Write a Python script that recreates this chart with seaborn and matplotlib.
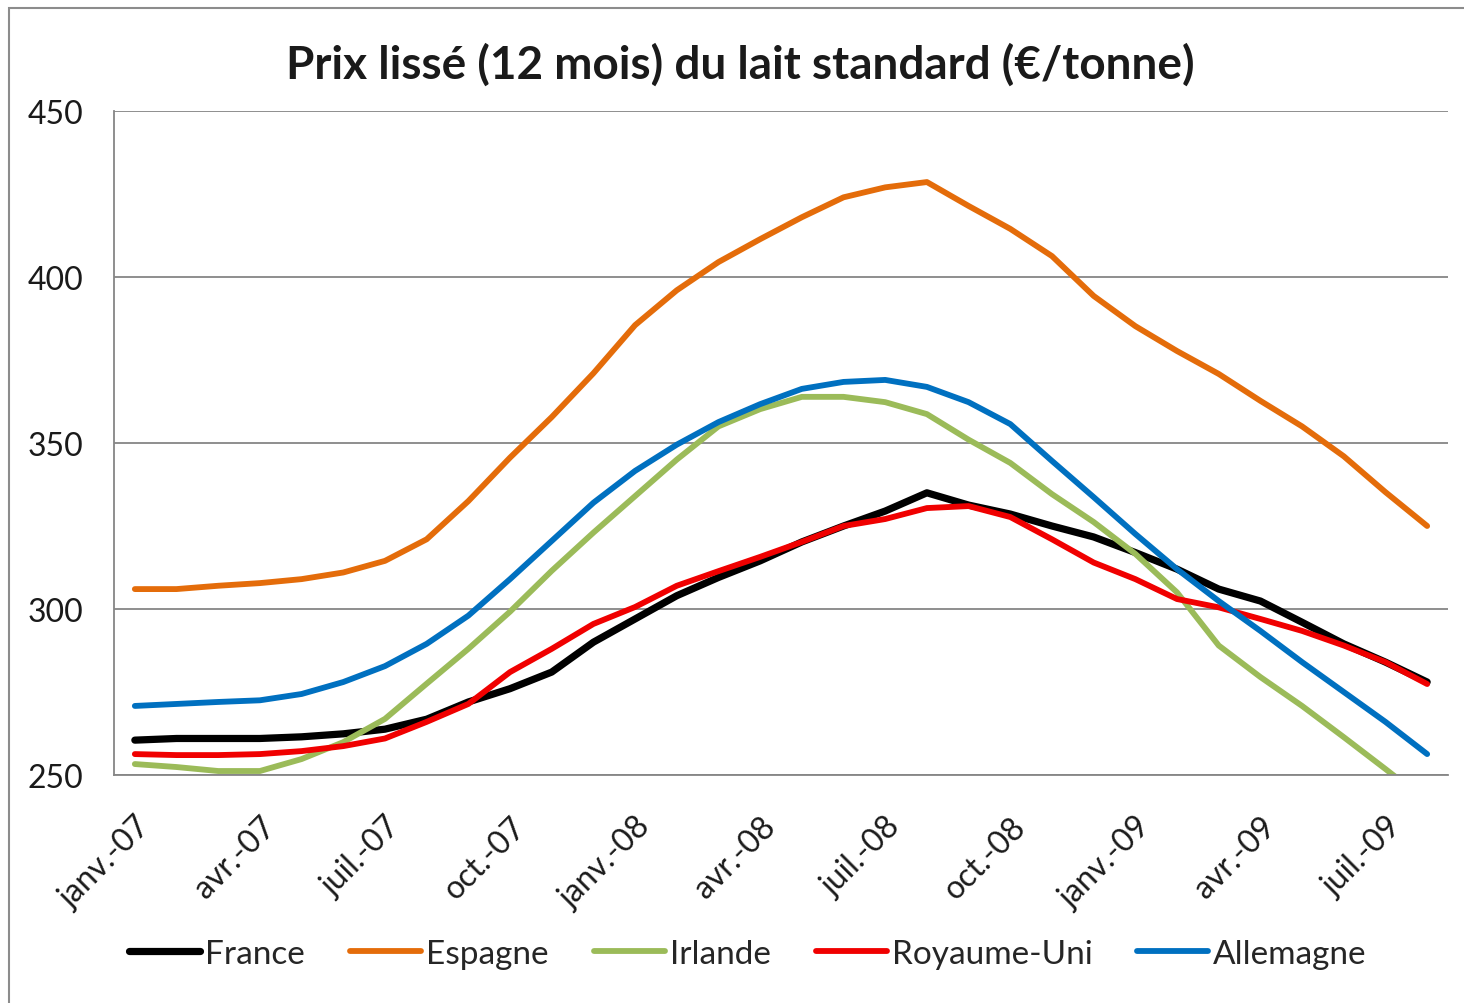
import pandas as pd
import matplotlib
matplotlib.use('Agg')
import matplotlib.pyplot as plt
from matplotlib.patches import Rectangle
import seaborn as sns

sns.set_style('white')
plt.rcParams['font.family'] = ['Lato', 'DejaVu Sans']

# monthly values, janv.-07 .. août-09
mois = pd.date_range('2007-01-01', periods=32, freq='MS')
tick_labels = ['janv.-07', 'avr.-07', 'juil.-07', 'oct.-07', 'janv.-08', 'avr.-08',
               'juil.-08', 'oct.-08', 'janv.-09', 'avr.-09', 'juil.-09']

france = [260.5, 261, 261, 261, 261.5, 262.4, 263.8, 266.8, 272, 276, 281, 290,
          297, 304, 309.5, 314.5, 320.2, 325, 329.5, 335, 331.3, 328.6, 325, 321.7,
          317, 312, 306, 302.4, 296, 289.5, 284, 278]
espagne = [306, 306, 307, 307.8, 309, 311, 314.5, 321, 332.5, 345.6, 357.8, 371,
           385.5, 396, 404.5, 411.4, 418, 424, 427, 428.6, 421.4, 414.5, 406.3, 394.3,
           385.2, 377.7, 370.8, 362.7, 355, 346, 335.2, 325]
irlande = [253.3, 252.4, 251.2, 251.2, 254.8, 259.9, 266.9, 277.5, 288, 299.2, 311.5, 323,
           334, 345, 355, 360.2, 363.9, 363.9, 362.3, 358.7, 351, 344, 334.6, 326.2,
           316.6, 305, 289, 279.5, 270.8, 261.4, 251.8, 242]
royaume_uni = [256.3, 256, 256, 256.3, 257.2, 258.7, 261, 266, 271.4, 281, 288, 295.5,
               300.6, 307, 311.4, 315.7, 320.2, 325, 327.1, 330.4, 331, 327.7, 321, 314,
               309, 303, 300.5, 297, 293.4, 289, 284, 277.4]
allemagne = [270.8, 271.4, 272, 272.5, 274.4, 278, 282.8, 289.5, 298, 309, 320.5, 332,
             341.6, 349.5, 356.3, 361.7, 366.3, 368.4, 369, 366.9, 362.3, 355.7, 344.6, 333.7,
             322.6, 312, 302.4, 293.4, 284, 275, 266, 256.3]

pays = ['France', 'Espagne', 'Irlande', 'Royaume-Uni', 'Allemagne']
couleurs = ['#000000', '#E46C0A', '#9BBB59', '#F00000', '#0070C0']

df = pd.DataFrame({'France': france, 'Espagne': espagne, 'Irlande': irlande,
                   'Royaume-Uni': royaume_uni, 'Allemagne': allemagne})
df['num'] = range(len(mois))
df = df.melt(id_vars='num', var_name='pays', value_name='prix')
df['x'] = df['num'] + 0.5  # points sit in the middle of each month

fig = plt.figure(figsize=(14.64, 10.04), dpi=100)
ax = fig.add_axes([114/1464, 1 - 776/1004, (1448-114)/1464, (776-112)/1004])

sns.lineplot(data=df, x='x', y='prix', hue='pays', hue_order=pays,
             palette=dict(zip(pays, couleurs)), linewidth=4.2, legend=False, ax=ax)
ax.lines[0].set_linewidth(5.2)
for l in ax.lines:
    l.set_solid_capstyle('round')
    l.set_solid_joinstyle('round')

ax.set_xlim(0, 32)
ax.set_ylim(250, 450)
ax.set_xlabel('')
ax.set_ylabel('')

gris = '#868686'
ax.set_yticks([250, 300, 350, 400, 450])
ax.yaxis.grid(True, color=gris, lw=1.3)
ax.tick_params(axis='y', length=0, pad=22, labelsize=23, labelcolor='#1a1a1a')

ax.set_xticks(range(0, 32, 3))
ax.set_xticklabels([])
ax.set_xticks([i + 0.5 for i in range(0, 32, 3)], minor=True)
ax.set_xticklabels(tick_labels, minor=True, rotation=45, ha='right',
                   rotation_mode='anchor', fontsize=23, color='#1a1a1a')
ax.tick_params(axis='x', which='major', direction='inout', length=18, width=1.2, color=gris)
ax.tick_params(axis='x', which='minor', length=0, pad=26)

for s in ['top', 'right']:
    ax.spines[s].set_visible(False)
for s in ['left', 'bottom']:
    ax.spines[s].set_color(gris)
    ax.spines[s].set_linewidth(1.3)

fig.text(0.506, 0.935, 'Prix lissé (12 mois) du lait standard (€/tonne)',
         ha='center', va='center', fontsize=33, fontweight='bold', color='#1a1a1a')

fig.legend(handles=ax.lines[:5], labels=pays, loc='center', bbox_to_anchor=(0.511, 0.049),
           ncol=5, frameon=False, fontsize=24, handlelength=2.13, handletextpad=0.15,
           columnspacing=1.35)

fig.patches.append(Rectangle((9/1464, -0.05), 1.2, 1 - 9/1004 + 0.05,
                             transform=fig.transFigure, fill=False, ec='#8c8c8c', lw=1.5))

fig.savefig('out.png', dpi=100)
